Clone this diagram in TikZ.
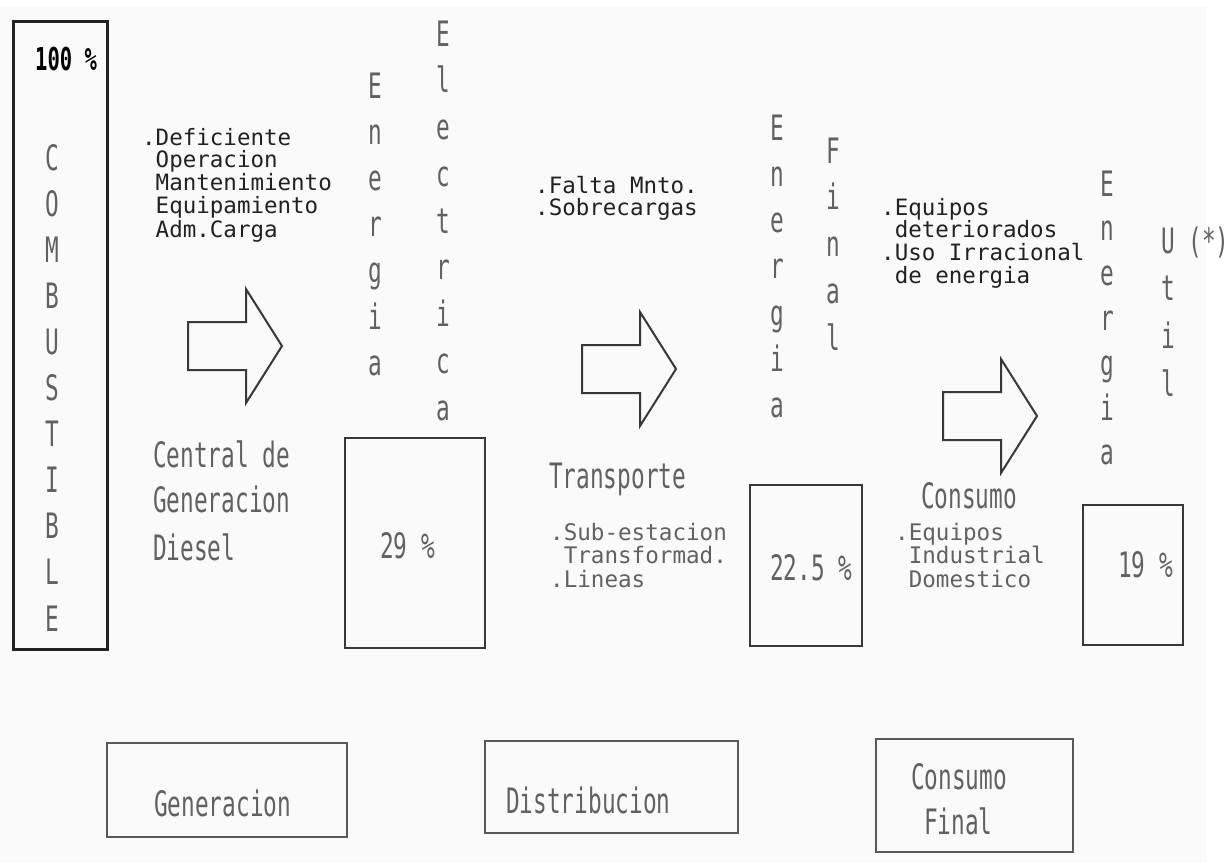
\documentclass[tikz,border=0pt]{standalone}
\usepackage{fontspec}
% plotter-like lettering: narrow monospaced sans
\newfontfamily\plotfont[FakeStretch=0.65]{DejaVu Sans Mono}
\newfontfamily\midfont[FakeStretch=0.99]{DejaVu Sans Mono}
\newfontfamily\smallfont{DejaVu Sans Mono}
\definecolor{ink}{gray}{0.13}
\definecolor{pen}{gray}{0.38}
\definecolor{boxink}{gray}{0.22}
\definecolor{stageink}{gray}{0.35}
\definecolor{paper}{gray}{0.98}
\begin{document}
\begin{tikzpicture}[x=1pt,y=-1pt,
  big/.style={font={\plotfont\fontsize{35}{35}\selectfont}, text=pen, inner sep=0pt},
  mid/.style={font={\midfont\fontsize{22.8}{23}\selectfont}, text=pen, inner sep=0pt,
    anchor=base west, text height=16pt, text depth=3pt},
  small/.style={font={\smallfont\fontsize{22.5}{23}\selectfont}, text=ink, inner sep=0pt,
    anchor=base west, text height=16pt, text depth=3pt},
  lbl/.style={big, anchor=base west},
  vletter/.style={big, anchor=base},
  heavybox/.style={draw=ink, line width=3pt},
  valbox/.style={draw=boxink, line width=2.5pt},
  stagebox/.style={draw=stageink, line width=2pt},
  arrowline/.style={draw=boxink, line width=2pt, line join=miter},
  bigarrow/.pic={\draw[arrowline] (0,-24) -- (58,-24) -- (58,-57) -- (94,0)
      -- (58,57) -- (58,24) -- (0,24) -- cycle;}
]
\useasboundingbox (0,0) rectangle (1232,863);
\fill[white] (0,0) rectangle (1232,863);
\fill[paper] (0,7) rectangle (1207,863);

% a word written downwards, one letter per line
\newcommand\downword[5]{% name, x, first baseline, step, letters
  \foreach \ch [count=\k from 0] in {#5} {
    \node[vletter, name=#1-\k] at (#2, {#3+\k*#4}) {\ch};
  }
}

% ---- fuel column ----
\draw[heavybox] (13,21) rectangle (107,649);
\node[anchor=base west, inner sep=0pt, text=black,
      font={\plotfont\bfseries\fontsize{31.5}{31.5}\selectfont}] (p100) at (35,70) {100 \%};
\downword{comb}{52}{170}{46.1}{C,O,M,B,U,S,T,I,B,L,E}

% ---- generation stage ----
\node[small] (def1) at (142,145) {.Deficiente};
\node[small] (def2) at (142,167) {\hphantom{.}Operacion};
\node[small] (def3) at (142,190) {\hphantom{.}Mantenimiento};
\node[small] (def4) at (142,213) {\hphantom{.}Equipamiento};
\node[small] (def5) at (142,237) {\hphantom{.}Adm.Carga};
\pic at (188,346) {bigarrow};
\node[lbl] (cen1) at (153,467) {Central de};
\node[lbl] (cen2) at (153,512) {Generacion};
\node[lbl] (cen3) at (153,560) {Diesel};

\downword{ene1}{375}{98}{46.2}{E,n,e,r,g,i,a}
\downword{ele}{443}{46}{46.75}{E,l,e,c,t,r,i,c,a}
\draw[valbox] (345,438) rectangle (485,648);
\node[lbl] (p29) at (380,558) {29 \%};

% ---- transport stage ----
\node[small] (fal1) at (535,193) {.Falta Mnto.};
\node[small] (fal2) at (535,215) {.Sobrecargas};
\pic at (582,369) {bigarrow};
\node[lbl] (trn) at (549,488) {Transporte};
\node[mid] (sub1) at (550,540) {.Sub-estacion};
\node[mid] (sub2) at (550,563) {\hphantom{.}Transformad.};
\node[mid] (sub3) at (550,587) {.Lineas};

\downword{ene2}{777}{140}{46.3}{E,n,e,r,g,i,a}
\downword{fin}{833}{163}{46.75}{F,i,n,a,l}
\draw[valbox] (750,485) rectangle (862,646);
\node[lbl] (p225) at (770,580) {22.5 \%};

% ---- consumption stage ----
\node[small] (det1) at (881,215) {.Equipos};
\node[small] (det2) at (881,237) {\hphantom{.}deteriorados};
\node[small] (det3) at (881,260) {.Uso Irracional};
\node[small] (det4) at (881,283) {\hphantom{.}de energia};
\pic at (943,416) {bigarrow};
\node[lbl] (con) at (921,508) {Consumo};
\node[mid] (eq1) at (895,540) {.Equipos};
\node[mid] (eq2) at (895,563) {\hphantom{.}Industrial};
\node[mid] (eq3) at (895,587) {\hphantom{.}Domestico};

\downword{ene3}{1107}{196}{44.8}{E,n,e,r,g,i,a}
\node[lbl] (util) at (1161,253) {U (*)};
\foreach \ch [count=\k from 1] in {t,i,l}
  \node[vletter, name=util-\k] at (1168, {253+\k*47.7}) {\ch};
\draw[valbox] (1083,505) rectangle (1183,645);
\node[lbl] (p19) at (1118,577) {19 \%};

% ---- stage labels ----
\draw[stagebox] (107,743) rectangle (347,837);
\node[lbl] (gen) at (154,816) {Generacion};
\draw[stagebox] (485,741) rectangle (738,833);
\node[lbl] (dis) at (506,813) {Distribucion};
\draw[stagebox] (876,739) rectangle (1073,852);
\node[lbl] (cf1) at (911,789) {Consumo};
\node[lbl] (cf2) at (924,834) {Final};
\end{tikzpicture}
\end{document}
